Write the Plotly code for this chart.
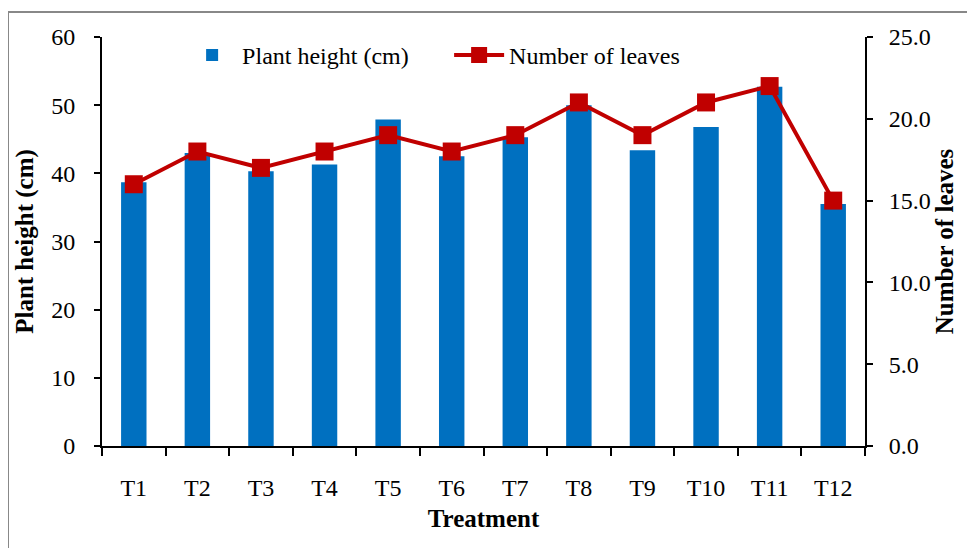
import plotly.graph_objects as go

treatments = ["T1", "T2", "T3", "T4", "T5", "T6", "T7", "T8", "T9", "T10", "T11", "T12"]
plant_height = [38.7, 43.0, 40.3, 41.3, 47.9, 42.5, 45.3, 50.0, 43.4, 46.8, 52.7, 35.5]
num_leaves = [16, 18, 17, 18, 19, 18, 19, 21, 19, 21, 22, 15]

FONT = "Liberation Serif"
TICK = 24
TITLE = 25

fig = go.Figure()
fig.add_trace(go.Bar(
    x=treatments, y=plant_height, name="Plant height (cm)",
    marker=dict(color="#0070C0", line=dict(width=0)),
    yaxis="y",
))
fig.add_trace(go.Scatter(
    x=treatments, y=num_leaves, name="Number of leaves",
    mode="lines+markers",
    line=dict(color="#C00000", width=4),
    marker=dict(symbol="square", size=18, color="#C00000"),
    yaxis="y2",
))

fig.update_layout(
    width=975, height=548,
    margin=dict(l=94, r=118, t=29, b=110),
    paper_bgcolor="white", plot_bgcolor="white",
    font=dict(family=FONT, size=TICK, color="black"),
    bargap=0.6,
    showlegend=True,
    legend=dict(
        orientation="h", x=0.105, y=1.01, xanchor="left", yanchor="top",
        font=dict(family=FONT, size=TICK), bgcolor="rgba(0,0,0,0)",
        itemwidth=50, tracegroupgap=0, entrywidth=202,
    ),
    xaxis=dict(
        range=[-0.5, 11.5], autorange=False, automargin=False,
        showline=True, linecolor="black", linewidth=2,
        ticks="outside", ticklen=8, tickwidth=1.5, tickcolor="black",
        tickson="boundaries", ticklabelstandoff=19,
        showgrid=False, zeroline=False,
        title=dict(text="<b>Treatment</b>", font=dict(family=FONT, size=TITLE), standoff=10),
        tickfont=dict(family=FONT, size=TICK),
    ),
    yaxis=dict(
        range=[0, 60], dtick=10, automargin=False,
        showline=True, linecolor="black", linewidth=2,
        ticks="outside", ticklen=6, tickwidth=1.5, tickcolor="black",
        ticklabelstandoff=14,
        showgrid=False, zeroline=False,
        title=dict(text="<b>Plant height (cm)</b>", font=dict(family=FONT, size=TITLE), standoff=10),
        tickfont=dict(family=FONT, size=TICK),
    ),
    yaxis2=dict(
        range=[0, 25], dtick=5, tickformat=".1f", automargin=False,
        overlaying="y", side="right",
        showline=True, linecolor="black", linewidth=2,
        ticks="outside", ticklen=6, tickwidth=1.5, tickcolor="black",
        ticklabelstandoff=11,
        showgrid=False, zeroline=False,
        title=dict(text="<b>Number of leaves</b>", font=dict(family=FONT, size=TITLE), standoff=0),
        tickfont=dict(family=FONT, size=TICK),
    ),
    shapes=[dict(
        type="rect", xref="paper", yref="paper",
        x0=-94/763, x1=1.2, y0=-0.3, y1=1 + 25/409,
        line=dict(color="#888888", width=2), fillcolor="rgba(0,0,0,0)", layer="below",
    )],
)

fig.write_html("out.html")
